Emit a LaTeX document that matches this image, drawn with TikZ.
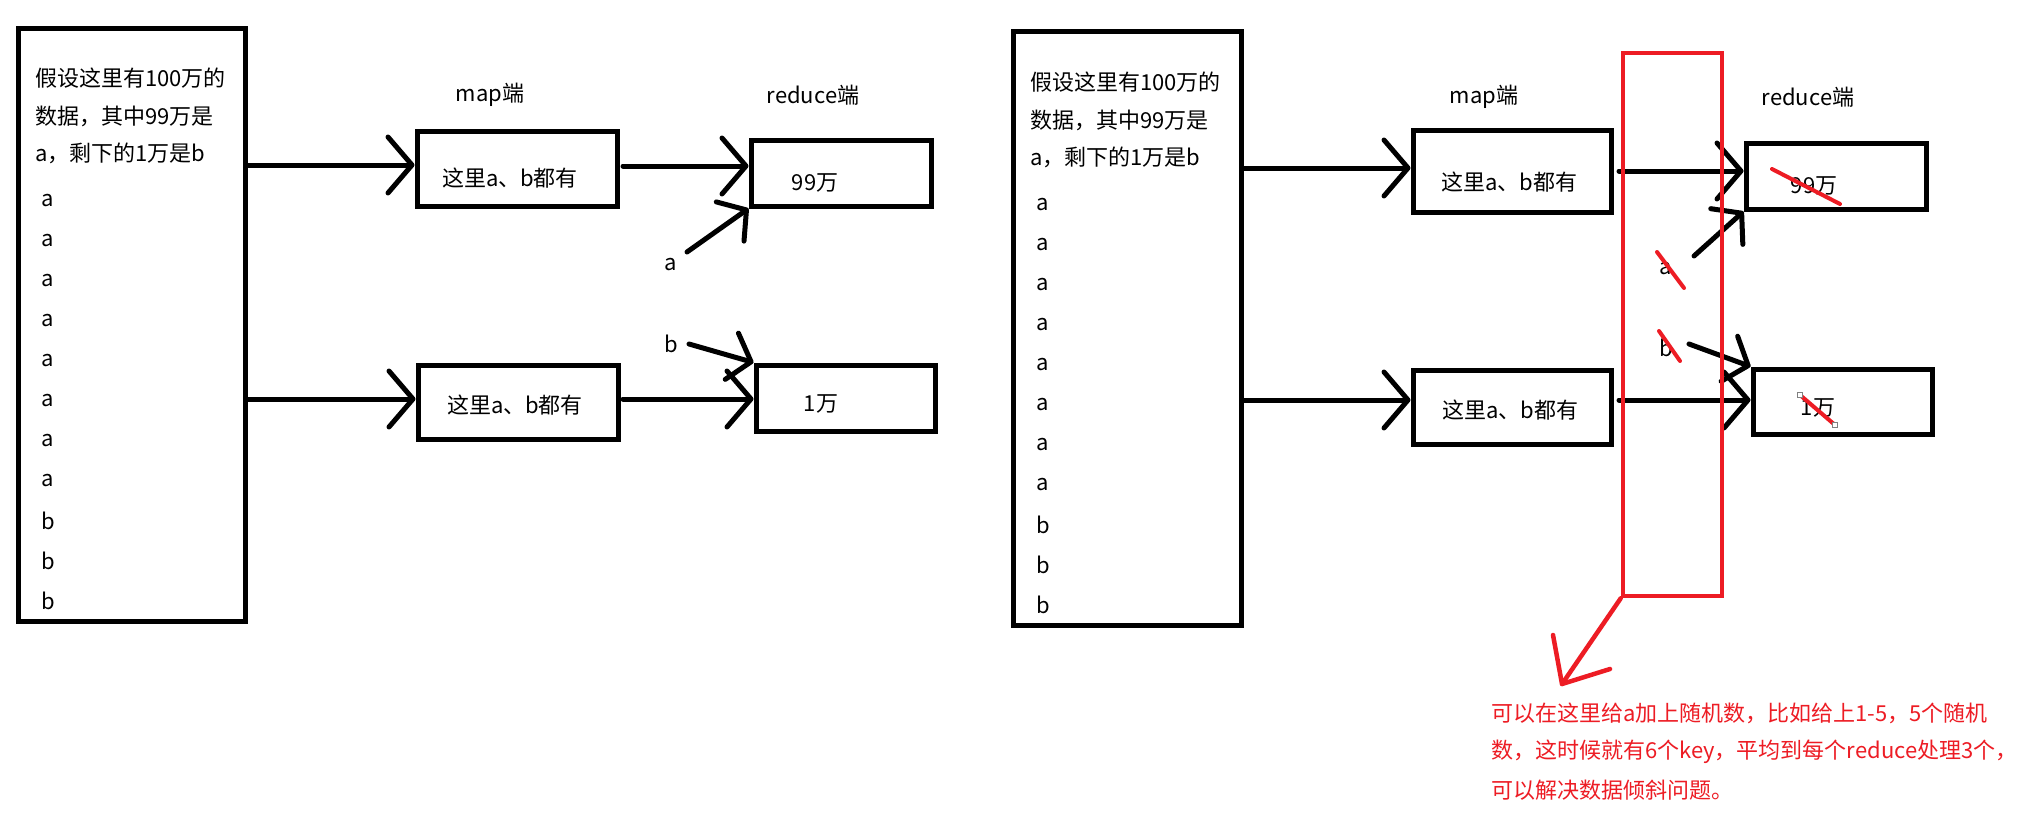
\documentclass[tikz,border=0pt]{standalone}
\usepackage{fontspec}
\setmainfont{Noto Sans CJK SC}
\usetikzlibrary{arrows.meta}
\definecolor{myred}{RGB}{237,28,36}
\begin{document}
\begin{tikzpicture}[x=1pt,y=-1pt,
  box/.style={draw, line width=5pt, inner sep=0pt},
  redbox/.style={draw=myred, line width=4.5pt, inner sep=0pt},
  arr/.style={line width=5pt, line cap=round, -{Straight Barb[length=24pt, width=56pt, round]}},
  sarr/.style={line width=5pt, line cap=round, -{Straight Barb[length=20pt, width=48pt, round]}},
  txt/.style={font=\fontsize{22pt}{26pt}\selectfont, inner sep=0pt},
  rtxt/.style={txt, text=myred, anchor=west},
  strike/.style={draw=myred, line width=4pt, line cap=round},
  handle/.style={draw=gray, fill=white, line width=0.8pt, minimum size=5pt, inner sep=0pt}
]
\useasboundingbox[fill=white] (0,0) rectangle (2036,832);

% ---------------- left panel ----------------
\node[box, minimum width=227pt, minimum height=592pt] (L) at (131.5,325) {};
\node[txt, anchor=west] (L1) at (35,78) {假设这里有100万的};
\node[txt, anchor=west] (L2) at (35,116) {数据，其中99万是};
\node[txt, anchor=west] (L3) at (35,153) {a，剩下的1万是b};
\foreach \i/\c in {0/a,1/a,2/a,3/a,4/a,5/a,6/a,7/a,8/b,9/b,10/b}{
  \node[txt, anchor=west] (Lx\i) at (41,{201+40*\i}) {\c};
}
\node[txt] (Lmap) at (490,95) {map端};
\node[txt] (Lred) at (813,95) {reduce端};

\node[box, minimum width=200pt, minimum height=74pt] (mL1) at (517,169) {};
\node[txt] (tmL1) at (510,178) {这里a、b都有};
\node[box, minimum width=200pt, minimum height=74pt] (mL2) at (518,402) {};
\node[txt] (tmL2) at (515,405) {这里a、b都有};
\node[box, minimum width=180pt, minimum height=66pt] (rL1) at (841,173) {};
\node[txt] (trL1) at (815,183) {99万};
\node[box, minimum width=179pt, minimum height=66pt] (rL2) at (845.5,398) {};
\node[txt] (trL2) at (821,404) {1万};
\node[txt] (la) at (671,265) {a};
\node[txt] (lb) at (671,344) {b};
\coordinate (ta) at (687,252);
\coordinate (tb) at (689,344);

\draw[arr] (L.east |- 0,165) -- (mL1.west |- 0,165);
\draw[arr] (L.east |- 0,399) -- (mL2.west |- 0,399);
\draw[arr] (623,166) -- (rL1.west |- 0,166);
\draw[arr] (623,399) -- (rL2.west |- 0,399);
\draw[sarr] (ta) -- (rL1.south west);
\draw[sarr] (tb) -- (rL2.north west);

% ---------------- right panel ----------------
\node[box, minimum width=228pt, minimum height=593pt] (R) at (1127,328.5) {};
\node[txt, anchor=west] (R1) at (1030,82) {假设这里有100万的};
\node[txt, anchor=west] (R2) at (1030,120) {数据，其中99万是};
\node[txt, anchor=west] (R3) at (1030,157) {a，剩下的1万是b};
\foreach \i/\c in {0/a,1/a,2/a,3/a,4/a,5/a,6/a,7/a,8/b,9/b,10/b}{
  \node[txt, anchor=west] (Rx\i) at (1036,{205+40*\i}) {\c};
}
\node[txt] (Rmap) at (1484,97) {map端};
\node[txt] (Rred) at (1808,97) {reduce端};

\node[box, minimum width=198pt, minimum height=81pt] (mR1) at (1512,171.5) {};
\node[txt] (tmR1) at (1509,182) {这里a、b都有};
\node[box, minimum width=198pt, minimum height=74pt] (mR2) at (1512,407) {};
\node[txt] (tmR2) at (1510,410) {这里a、b都有};
\node[box, minimum width=180pt, minimum height=66pt] (rR1) at (1836,176) {};
\node[txt] (trR1) at (1814,186) {99万};
\node[box, minimum width=179pt, minimum height=65pt] (rR2) at (1842.5,401.5) {};
\node[txt] (trR2) at (1818,408) {1万};
\node[txt] (ra) at (1666,269) {a};
\node[txt] (rb) at (1666,348) {b};
\coordinate (tra) at (1694,256);
\coordinate (trb) at (1689,344);

\draw[arr] (R.east |- 0,168) -- (mR1.west |- 0,168);
\draw[arr] (R.east |- 0,400) -- (mR2.west |- 0,400);
\draw[arr] (1619,171) -- (rR1.west |- 0,171);
\draw[arr] (1619,400) -- (rR2.west |- 0,400);
\draw[sarr] (tra) -- (rR1.south west);
\draw[sarr] (trb) -- (rR2.north west);

% strikes
\draw[strike] (1772,169) -- (1840,204);
\draw[strike] (1657,252) -- (1684,288);
\draw[strike] (1659,331) -- (1680,361);
\draw[strike] (1800,395) -- (1835,425);
\node[handle] (h1) at (1800,395) {};
\node[handle] (h2) at (1835,425) {};

% red box and arrow
\node[redbox, minimum width=99pt, minimum height=543pt] (RB) at (1672.5,324.5) {};
\coordinate (tip) at (1562,684);
\coordinate (bar1) at (1553,635);
\coordinate (bar2) at (1610,669);
\draw[strike, line width=4.5pt] (RB.south west) -- (tip);
\draw[strike, line width=4.5pt, line join=round] (bar1) -- (tip) -- (bar2);

\node[rtxt] (n1) at (1491,713) {可以在这里给a加上随机数，比如给上1-5，5个随机};
\node[rtxt] (n2) at (1491,752) {数，这时候就有6个key，平均到每个reduce处理3个，};
\node[rtxt] (n3) at (1491,790) {可以解决数据倾斜问题。};
\end{tikzpicture}
\end{document}
